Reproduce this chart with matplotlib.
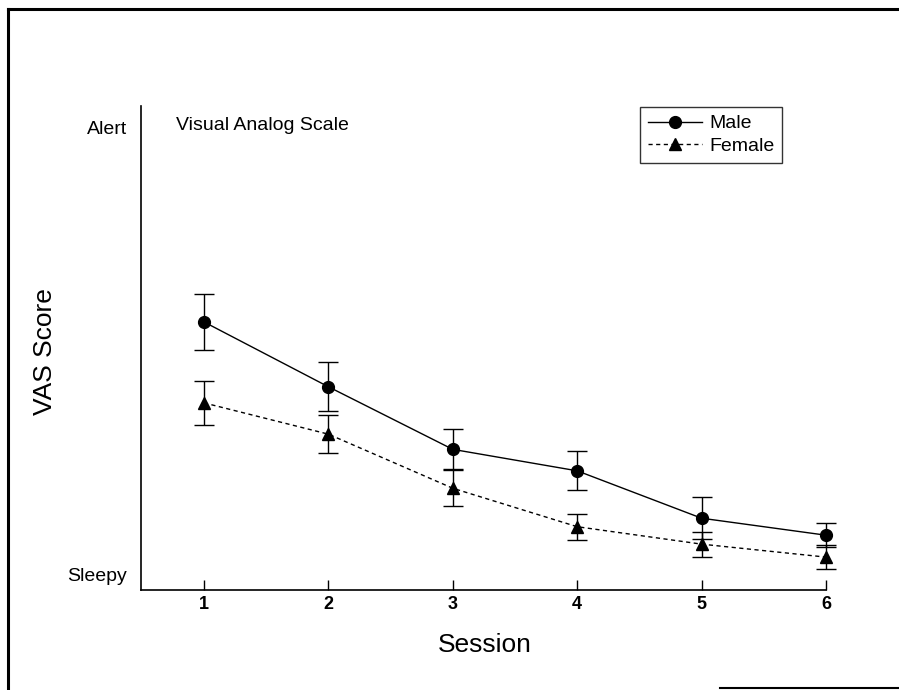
import matplotlib
matplotlib.use("Agg")
import matplotlib.pyplot as plt
from matplotlib.lines import Line2D

plt.rcParams['font.family'] = ['Liberation Sans', 'DejaVu Sans']

sessions = [1, 2, 3, 4, 5, 6]
male_mean = [56.6, 42.1, 28.1, 23.3, 12.7, 8.9]
male_err = [6.2, 5.5, 4.5, 4.4, 4.7, 2.7]
female_mean = [38.5, 31.5, 19.4, 10.8, 6.9, 4.0]
female_err = [4.9, 4.2, 4.0, 2.9, 2.8, 2.7]

y_ticks = [0, 100]
y_tick_labels = ['Sleepy', 'Alert']

fig = plt.figure(figsize=(8.99, 6.90), dpi=100)
ax = fig.add_axes([0.1568, 0.1449, 0.762, 0.7015])

female_ls = (0, (3, 2.5))
ax.errorbar(sessions, male_mean, yerr=male_err, color='black', lw=1,
            marker='o', ms=8.5, capsize=7, elinewidth=1, capthick=1,
            clip_on=False, zorder=3)
ax.errorbar(sessions, female_mean, yerr=female_err, color='black', lw=1,
            ls=female_ls, marker='^', ms=9, capsize=7, elinewidth=1,
            capthick=1, clip_on=False, zorder=3)

ax.set_xlim(0.4936, 6.0)
ax.set_ylim(-3.36, 104.9)
ax.set_xticks(sessions)
ax.set_xticklabels([str(s) for s in sessions], fontsize=13, fontweight='bold')
ax.tick_params(axis='x', direction='in', length=7, width=1, pad=4)
ax.set_yticks(y_ticks)
ax.set_yticklabels(y_tick_labels, fontsize=14)
ax.tick_params(axis='y', length=0, pad=10)

for side in ['top', 'right']:
    ax.spines[side].set_visible(False)
for side in ['left', 'bottom']:
    ax.spines[side].set_linewidth(1.2)

fig.text(176 / 899, 1 - 126 / 690, 'Visual Analog Scale', fontsize=14,
         ha='left', va='center')
fig.text(45 / 899, 1 - 352 / 690, 'VAS Score', fontsize=19, rotation=90,
         ha='center', va='center')
fig.text(485 / 899, 1 - 645 / 690, 'Session', fontsize=19,
         ha='center', va='center')

# legend handles without the error bars
handles = [Line2D([], [], color='black', lw=1, marker='o', ms=8.5),
           Line2D([], [], color='black', lw=1, ls=female_ls, marker='^', ms=9)]
leg = ax.legend(handles, ['Male', 'Female'], loc='upper left',
                bbox_to_anchor=(640 / 899, 1 - 107 / 690),
                bbox_transform=fig.transFigure, borderaxespad=0, fontsize=14,
                frameon=True, fancybox=False, handlelength=2.8,
                handletextpad=0.35, borderpad=0.4, labelspacing=0.25)
leg.get_frame().set_edgecolor('black')
leg.get_frame().set_linewidth(1)

# page frame around the figure
fig.add_artist(Line2D([8 / 899, 8 / 899], [0, 1 - 9 / 690], color='black',
                      lw=2.2, transform=fig.transFigure))
fig.add_artist(Line2D([8 / 899, 1], [1 - 9 / 690, 1 - 9 / 690], color='black',
                      lw=2.2, transform=fig.transFigure))
fig.add_artist(Line2D([720 / 899, 1], [1 - 688 / 690, 1 - 688 / 690],
                      color='black', lw=1.5, transform=fig.transFigure))

fig.savefig('out.png', dpi=100)
